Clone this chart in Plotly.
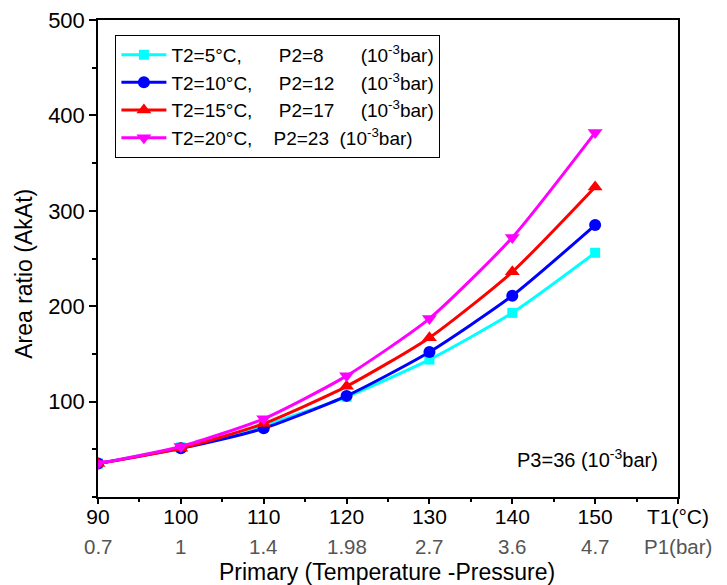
import plotly.graph_objects as go

T1 = [90, 100, 110, 120, 130, 140, 150]
P1_labels = ["0.7", "1", "1.4", "1.98", "2.7", "3.6", "4.7"]

area_t5 = [35, 52, 75, 105, 144, 193, 256]
area_t10 = [35, 51, 72, 106, 152, 211, 285]
area_t15 = [35, 51, 77, 116, 167, 236, 325]
area_t20 = [35, 53, 82, 127, 187, 272, 382]

NB = "\u00a0"
series_names = [
    "T2=5°C," + NB * 7 + "P2=8" + NB * 7 + "(10<sup>-3</sup>bar)",
    "T2=10°C," + NB * 5 + "P2=12" + NB * 5 + "(10<sup>-3</sup>bar)",
    "T2=15°C," + NB * 5 + "P2=17" + NB * 5 + "(10<sup>-3</sup>bar)",
    "T2=20°C," + NB * 4 + "P2=23" + NB * 2 + "(10<sup>-3</sup>bar)",
]
series_values = [area_t5, area_t10, area_t15, area_t20]
colors = ["#00FFFF", "#0000FF", "#FF0000", "#FF00FF"]
symbols = ["square", "circle", "triangle-up", "triangle-down"]
sizes = [10, 12, 13, 13]

x_ticks = [90, 100, 110, 120, 130, 140, 150, 160]
x_ticktext = ["90", "100", "110", "120", "130", "140", "150", "T1(°C)"]
y_ticks = [100, 200, 300, 400, 500]

FONT = "Liberation Sans, Arial, sans-serif"

fig = go.Figure()
for name, vals, c, s, sz in zip(series_names, series_values, colors, symbols, sizes):
    fig.add_trace(go.Scatter(
        x=T1, y=vals, name=name, mode="lines+markers",
        line=dict(color=c, width=3, shape="spline", smoothing=0.6),
        marker=dict(symbol=s, size=sz, color=c),
    ))

annotations = []
for xv, lab in zip(T1, P1_labels):
    annotations.append(dict(
        x=xv, y=-0.1048, xref="x", yref="paper", text=lab, showarrow=False,
        xanchor="center", yanchor="middle",
        font=dict(family=FONT, size=20.5, color="#555555"),
    ))
annotations.append(dict(
    x=160, y=-0.1048, xref="x", yref="paper", text="P1(bar)", showarrow=False,
    xanchor="center", yanchor="middle",
    font=dict(family=FONT, size=20.5, color="#555555"),
))
annotations.append(dict(
    x=0.498, y=-0.157, xref="paper", yref="paper", text="Primary (Temperature -Pressure)",
    showarrow=False, xanchor="center", yanchor="middle",
    font=dict(family=FONT, size=23, color="black"),
))
annotations.append(dict(
    x=-0.127, y=0.4686, xref="paper", yref="paper", text="Area ratio (AkAt)",
    showarrow=False, xanchor="center", yanchor="middle", textangle=-90,
    font=dict(family=FONT, size=23, color="black"),
))
annotations.append(dict(
    x=0.969, y=0.0797, xref="paper", yref="paper", text="P3=36 (10<sup>-3</sup>bar)",
    showarrow=False, xanchor="right", yanchor="middle",
    font=dict(family=FONT, size=20, color="black"),
))

fig.update_layout(
    width=719, height=577,
    margin=dict(l=90, r=49, t=12, b=88, autoexpand=False),
    plot_bgcolor="white", paper_bgcolor="white",
    font=dict(family=FONT, size=20, color="black"),
    showlegend=True,
    legend=dict(
        x=0.03, y=0.969, xanchor="left", yanchor="top",
        bordercolor="black", borderwidth=1, bgcolor="white",
        font=dict(family=FONT, size=19, color="black"),
        tracegroupgap=0, itemwidth=45,
    ),
    annotations=annotations,
)
fig.update_xaxes(
    range=[90, 160], tickmode="array", tickvals=x_ticks, ticktext=x_ticktext,
    automargin=False, ticklabeloverflow="allow", ticklabelstandoff=-5,
    showgrid=False, zeroline=False, showline=True, linecolor="black", linewidth=1.5,
    mirror=True, ticks="outside", ticklen=5, tickwidth=1.5, tickcolor="black",
    minor=dict(ticks="outside", ticklen=3, tickwidth=1.5, tickcolor="black", dtick=5, tick0=90),
    tickfont=dict(family=FONT, size=21, color="black"),
)
fig.update_yaxes(
    range=[0, 500], tickmode="array", tickvals=y_ticks,
    automargin=False, ticklabeloverflow="allow",
    showgrid=False, zeroline=False, showline=True, linecolor="black", linewidth=1.5,
    mirror=True, ticks="outside", ticklen=7, tickwidth=1.5, tickcolor="black",
    minor=dict(ticks="outside", ticklen=4, tickwidth=1.5, tickcolor="black", dtick=50, tick0=0),
    tickfont=dict(family=FONT, size=22, color="black"),
)

fig.write_html("out.html")
